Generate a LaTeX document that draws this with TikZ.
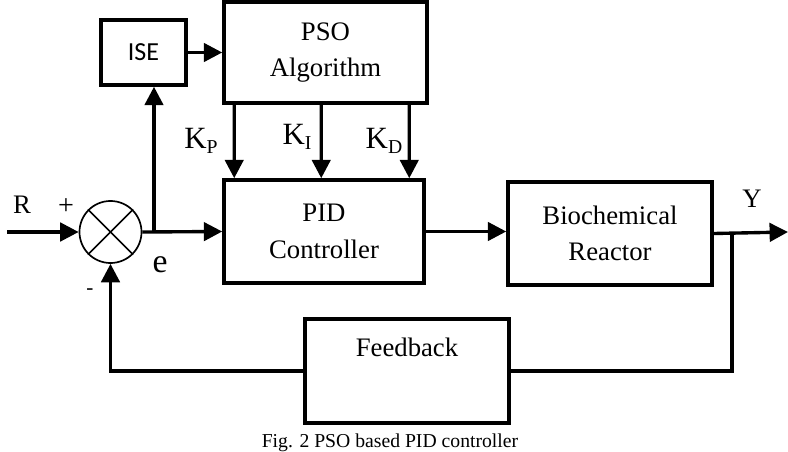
\documentclass[tikz,border=0pt]{standalone}
\usepackage{fontspec}
\setmainfont{Liberation Serif}
\newfontfamily\isefont{Carlito}
\usepackage{tikz}
\usetikzlibrary{arrows.meta,positioning,calc}
\tikzset{%
  box/.style={draw,line width=2.5pt,align=center,inner sep=0pt},
  arrow/.style={-{Triangle[length=4.6mm,width=4.6mm]}, line width=2.4pt},
  wire/.style={line width=2.4pt}%
}
\newcommand{\gainlbl}[1]{K\raisebox{-0.35ex}{\fontsize{14}{14}\selectfont #1}}

\begin{document}
\begin{tikzpicture}[
    x=0.025cm, y=-0.025cm,
    font=\fontsize{19}{26}\selectfont,
    sumpt/.style={draw,circle,line width=1.2pt,minimum size=1.55cm,inner sep=0pt},
    sign/.style={font=\fontsize{20}{22}\selectfont}
]
\useasboundingbox (0,0) rectangle (788,452);

% Blocks
\node[box, minimum width=2.125cm, minimum height=1.625cm, font=\isefont\fontsize{18.5}{22}\selectfont] (ise) at (143.5,52.5) {ISE};
\node[box, minimum width=5.075cm, minimum height=2.525cm] (pso) at (325.5,52.5) {PSO\\Algorithm};
\node[box, minimum width=5.0cm, minimum height=2.575cm] (pid) at (324,231.5) {PID\\Controller};
\node[box, minimum width=5.1cm, minimum height=2.575cm] (bio) at (610,233.5) {Biochemical\\Reactor};
\node[box, minimum width=5.1cm, minimum height=2.6cm] (fb) at (407,371) {Feedback\\\strut};

% Summing point
\node[sumpt] (sum) at (110.5,232) {};
\draw[line width=1.2pt] (sum.north west) -- (sum.south east);
\draw[line width=1.2pt] (sum.north east) -- (sum.south west);

% Helper points
\coordinate (in) at (7,232);
\coordinate (br) at (154,232);
\coordinate (yb) at (732,232);
\coordinate (out) at (788,232);

% Forward path
\draw[arrow] (in) -- (sum.west);
\draw[arrow] (sum.east) -- (pid.west);
\draw[arrow] (br) -- (br |- ise.south);
\draw[arrow] (ise.east) -- (ise.east -| pso.west);
\draw[arrow] ([xshift=0.3cm]pso.south west) -- ([xshift=0.3cm]pid.north west);
\draw[arrow] ([xshift=2.475cm]pso.south west) -- ([xshift=2.475cm]pid.north west);
\draw[arrow] ([xshift=4.675cm]pso.south west) -- ([xshift=4.675cm]pid.north west);
\draw[arrow] (pid.east) -- (pid.east -| bio.west);
\draw[arrow] (bio.east) -- (out);

% Feedback path
\draw[wire] (yb) |- (fb.east);
\draw[arrow] (fb.west) -| (sum.south);

% Labels
\node (lr) at (22,205) {R};
\node[sign] (lplus) at (66,207) {+};
\node[font=\fontsize{15}{18}\selectfont] (lminus) at (90,292) {-};
\node[font=\fontsize{24}{26}\selectfont] (le) at (160,265) {e};
\node (ly) at (752,199) {Y};
\node[font=\fontsize{22}{24}\selectfont] (lkp) at (201,141) {\gainlbl{P}};
\node[font=\fontsize{22}{24}\selectfont] (lki) at (297,137) {\gainlbl{I}};
\node[font=\fontsize{22}{24}\selectfont] (lkd) at (384,141) {\gainlbl{D}};

% Caption
\node[font=\fontsize{14}{16}\selectfont] (cap) at (390,443) {Fig. 2 PSO based PID controller};

\end{tikzpicture}
\end{document}
